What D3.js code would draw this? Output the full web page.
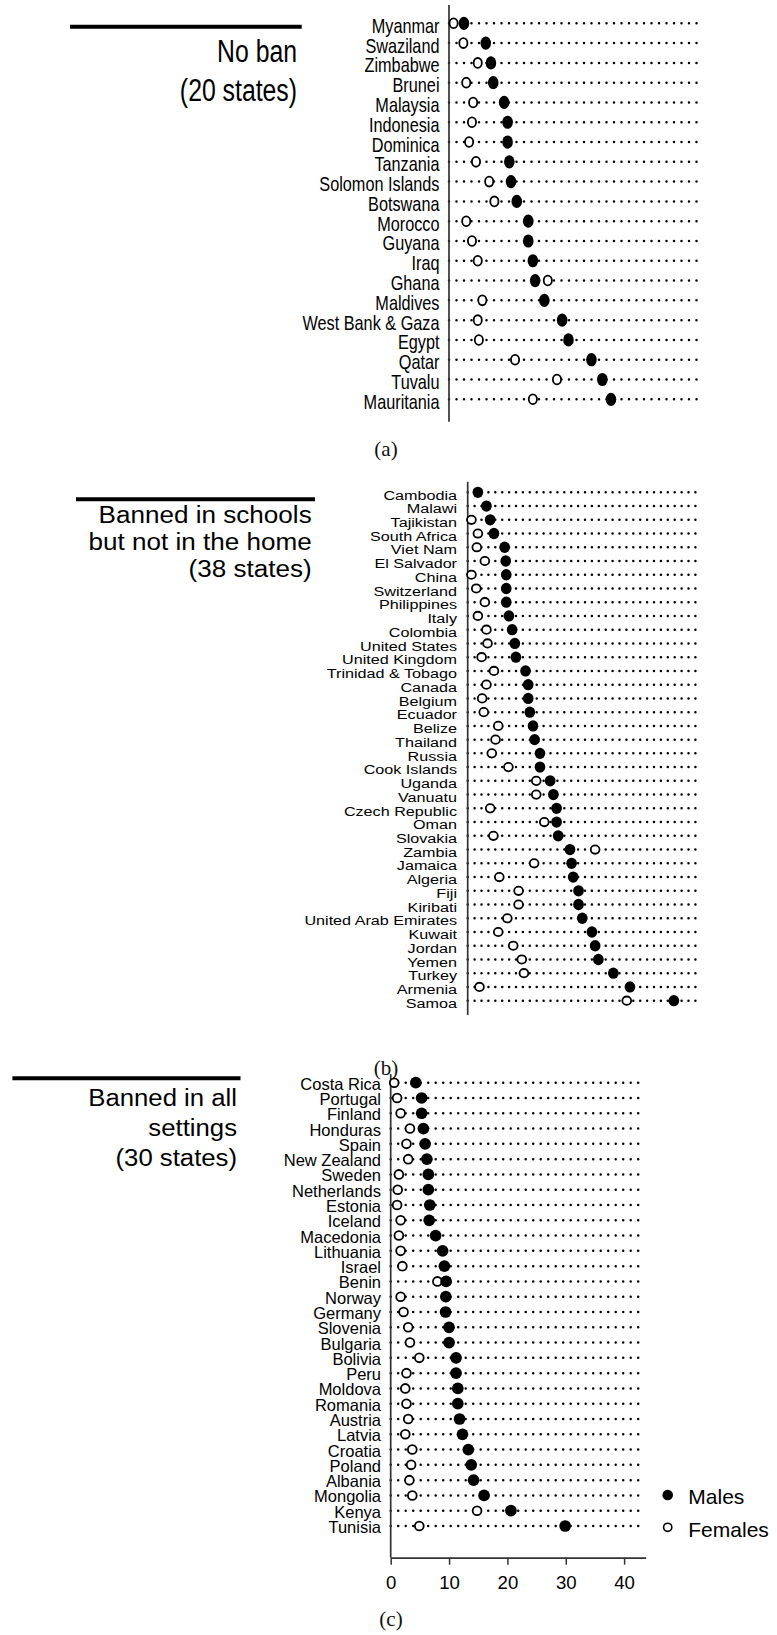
<!DOCTYPE html>
<html><head><meta charset="utf-8">
<script src="https://cdn.jsdelivr.net/npm/d3@7/dist/d3.min.js"></script>
<style>html,body{margin:0;padding:0;background:#fff}svg{display:block}</style>
</head><body>
<svg id="chart" width="777" height="1635"></svg>
<script>
// ---------------- DATA ----------------
const xMax = 43.7;
const xTicks = [0, 10, 20, 30, 40];
const legendLabels = ["Males", "Females"];

// (a) No ban
const noBanTitle = ["No ban", "(20 states)"];
const noBanCountries = ["Myanmar","Swaziland","Zimbabwe","Brunei","Malaysia","Indonesia","Dominica","Tanzania","Solomon Islands","Botswana","Morocco","Guyana","Iraq","Ghana","Maldives","West Bank & Gaza","Egypt","Qatar","Tuvalu","Mauritania"];
const noBanMales   = [2.6, 6.4, 7.3, 7.7, 9.6, 10.2, 10.2, 10.5, 10.8, 11.8, 13.8, 13.8, 14.6, 15.0, 16.6, 19.7, 20.8, 24.8, 26.7, 28.2];
const noBanFemales = [0.8, 2.5, 5.0, 3.0, 4.2, 4.0, 3.5, 4.7, 7.0, 7.9, 3.0, 4.0, 5.0, 17.2, 5.8, 5.0, 5.2, 11.5, 18.8, 14.6];

// (b) Banned in schools but not in the home
const schoolsTitle = ["Banned in schools", "but not in the home", "(38 states)"];
const schoolsCountries = ["Cambodia","Malawi","Tajikistan","South Africa","Viet Nam","El Salvador","China","Switzerland","Philippines","Italy","Colombia","United States","United Kingdom","Trinidad & Tobago","Canada","Belgium","Ecuador","Belize","Thailand","Russia","Cook Islands","Uganda","Vanuatu","Czech Republic","Oman","Slovakia","Zambia","Jamaica","Algeria","Fiji","Kiribati","United Arab Emirates","Kuwait","Jordan","Yemen","Turkey","Armenia","Samoa"];
const schoolsMales   = [1.9, 3.5, 4.2, 4.9, 6.9, 7.1, 7.2, 7.2, 7.2, 7.7, 8.3, 8.8, 9.0, 10.8, 11.3, 11.3, 11.6, 12.2, 12.5, 13.5, 13.5, 15.4, 16.0, 16.6, 16.6, 16.9, 19.1, 19.4, 19.7, 20.7, 20.7, 21.4, 23.2, 23.8, 24.4, 27.2, 30.3, 38.5];
const schoolsFemales = [null, null, 0.7, 1.9, 1.7, 3.2, 0.7, 1.6, 3.2, 1.9, 3.5, 3.7, 2.6, 4.9, 3.5, 2.7, 3.0, 5.7, 5.2, 4.5, 7.6, 12.8, 12.8, 4.2, 14.3, 4.8, 23.8, 12.4, 5.9, 9.5, 9.5, 7.4, 5.7, 8.5, 10.1, 10.5, 2.2, 29.7];

// (c) Banned in all settings
const allTitle = ["Banned in all", "settings", "(30 states)"];
const allCountries = ["Costa Rica","Portugal","Finland","Honduras","Spain","New Zealand","Sweden","Netherlands","Estonia","Iceland","Macedonia","Lithuania","Israel","Benin","Norway","Germany","Slovenia","Bulgaria","Bolivia","Peru","Moldova","Romania","Austria","Latvia","Croatia","Poland","Albania","Mongolia","Kenya","Tunisia"];
const allMales   = [4.3, 5.3, 5.3, 5.6, 5.9, 6.2, 6.45, 6.45, 6.7, 6.6, 7.7, 8.9, 9.2, 9.5, 9.45, 9.4, 10.0, 10.0, 11.2, 11.2, 11.5, 11.5, 11.8, 12.3, 13.3, 13.8, 14.2, 16.0, 20.6, 29.9];
const allFemales = [0.6, 1.1, 1.7, 3.3, 2.7, 3.0, 1.4, 1.2, 1.1, 1.7, 1.4, 1.7, 2.0, 8.0, 1.7, 2.2, 3.0, 3.3, 4.9, 2.7, 2.5, 2.7, 3.0, 2.5, 3.7, 3.5, 3.2, 3.7, 14.8, 4.9];

// ---------------- LAYOUT ----------------
const panels = [
  { countries: noBanCountries, males: noBanMales, females: noBanFemales, title: noBanTitle, caption: "(a)",
    x0: 449, x1: 700, yTop: 5, yFirst: 23.3, yLast: 399.3, yBottom: 421.7,
    labelX: 439.5, labelSize: 19.6, labelSx: 0.83, labelDy: 9.5,
    fill: {rx: 5.3, ry: 6.6}, open: {rx: 4.1, ry: 4.9, sw: 1.8}, dotGap: 7.5,
    line: [70, 301.7, 26.7], titleRight: 297, titleBase: [62, 101], titleSize: 31, titleSx: 0.8,
    capX: 386, capY: 456, xAxis: false },
  { countries: schoolsCountries, males: schoolsMales, females: schoolsFemales, title: schoolsTitle, caption: "(b)",
    x0: 467.7, x1: 701.7, yTop: 481.7, yFirst: 492.3, yLast: 1000.7, yBottom: 1015,
    labelX: 457, labelSize: 13.7, labelSx: 1.18, labelDy: 7.2,
    fill: {rx: 5.35, ry: 5.65}, open: {rx: 4.4, ry: 4.2, sw: 1.8}, dotGap: 6.9,
    line: [76, 315, 499.3], titleRight: 311.7, titleBase: [523.3, 550, 577.3], titleSize: 23.3, titleSx: 1.12,
    capX: 386, capY: 1075, xAxis: false },
  { countries: allCountries, males: allMales, females: allFemales, title: allTitle, caption: "(c)",
    x0: 390.7, x1: 645.7, yTop: 1074, yFirst: 1082.7, yLast: 1526, yBottom: 1557.7,
    labelX: 381, labelSize: 16.5, labelSx: 1.0, labelDy: 7,
    fill: {rx: 5.85, ry: 5.85}, open: {rx: 4.4, ry: 4.4, sw: 1.8}, dotGap: 7.5,
    line: [12.4, 240.5, 1078.3], titleRight: 237, titleBase: [1105.8, 1135.5, 1165.5], titleSize: 24.5, titleSx: 1.05,
    capX: 391, capY: 1626, xAxis: true }
];

const svg = d3.select("#chart");
const SANS = "'Liberation Sans', Arial, Helvetica, sans-serif";
const SERIF = "'Liberation Serif', 'Times New Roman', serif";

panels.forEach(p => {
  const g = svg.append("g");
  const x = d3.scaleLinear().domain([0, xMax]).range([p.x0, p.x1]);
  const y = d3.scalePoint().domain(p.countries).range([p.yFirst, p.yLast]);

  // title rule + text
  g.append("line").attr("x1", p.line[0]).attr("x2", p.line[1])
    .attr("y1", p.line[2]).attr("y2", p.line[2])
    .attr("stroke", "#000").attr("stroke-width", 4);
  p.title.forEach((t, i) => {
    g.append("text").text(t)
      .attr("transform", `translate(${p.titleRight},${p.titleBase[i]}) scale(${p.titleSx},1)`)
      .attr("text-anchor", "end").attr("font-family", SANS)
      .attr("font-size", p.titleSize).attr("fill", "#000");
  });

  // dotted guide lines
  g.append("g").selectAll("line").data(p.countries).join("line")
    .attr("x1", x(0)).attr("x2", x(xMax))
    .attr("y1", d => y(d)).attr("y2", d => y(d))
    .attr("stroke", "#000").attr("stroke-width", 2.5)
    .attr("stroke-linecap", "round")
    .attr("stroke-dasharray", `0,${p.dotGap}`);

  // vertical axis line
  g.append("line").attr("x1", x(0)).attr("x2", x(0))
    .attr("y1", p.yTop).attr("y2", p.yBottom)
    .attr("stroke", "#333").attr("stroke-width", 1.7);

  // country labels
  g.append("g").selectAll("text").data(p.countries).join("text")
    .text(d => d)
    .attr("transform", d => `translate(${p.labelX},${y(d) + p.labelDy}) scale(${p.labelSx},1)`)
    .attr("text-anchor", "end").attr("font-family", SANS)
    .attr("font-size", p.labelSize).attr("fill", "#000");

  // females (open)
  const fem = p.countries.map((c, i) => ({c, v: p.females[i]})).filter(d => d.v !== null);
  g.append("g").selectAll("ellipse").data(fem).join("ellipse")
    .attr("cx", d => x(d.v)).attr("cy", d => y(d.c))
    .attr("rx", p.open.rx).attr("ry", p.open.ry)
    .attr("fill", "#fff").attr("stroke", "#000").attr("stroke-width", p.open.sw);

  // males (filled)
  const mal = p.countries.map((c, i) => ({c, v: p.males[i]}));
  g.append("g").selectAll("ellipse").data(mal).join("ellipse")
    .attr("cx", d => x(d.v)).attr("cy", d => y(d.c))
    .attr("rx", p.fill.rx).attr("ry", p.fill.ry)
    .attr("fill", "#000");

  // caption
  g.append("text").text(p.caption)
    .attr("x", p.capX).attr("y", p.capY)
    .attr("text-anchor", "middle").attr("font-family", SERIF)
    .attr("font-size", 21).attr("fill", "#111");

  if (p.xAxis) {
    const ax = g.append("g").attr("transform", `translate(0,${p.yBottom})`)
      .call(d3.axisBottom(x).tickValues(xTicks).tickSize(7).tickSizeOuter(0).tickPadding(11));
    ax.select(".domain").attr("stroke", "#333").attr("stroke-width", 1.7);
    ax.selectAll(".tick line").attr("stroke", "#333").attr("stroke-width", 1.5);
    ax.selectAll(".tick text").attr("font-family", SANS).attr("font-size", 18.6).attr("fill", "#000");

    // legend
    const lg = g.append("g");
    const lx = 667.7, ly = [1495, 1527.3];
    lg.append("circle").attr("cx", lx).attr("cy", ly[0]).attr("r", 5.3).attr("fill", "#000");
    lg.append("circle").attr("cx", lx).attr("cy", ly[1]).attr("r", 4.1)
      .attr("fill", "#fff").attr("stroke", "#000").attr("stroke-width", 1.6);
    legendLabels.forEach((t, i) => {
      lg.append("text").text(t).attr("x", 688.3).attr("y", ly[i] + 9.3)
        .attr("font-family", SANS).attr("font-size", 21).attr("fill", "#000");
    });
  }
});
</script>
</body></html>
